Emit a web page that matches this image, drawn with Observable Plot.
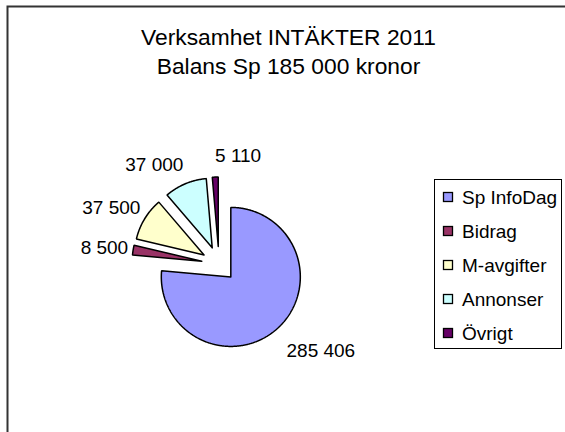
<!DOCTYPE html>
<html><head><meta charset="utf-8">
<script src="https://cdn.jsdelivr.net/npm/d3@7"></script>
<script src="https://cdn.jsdelivr.net/npm/@observablehq/plot@0.6"></script>
<style>
html,body{margin:0;padding:0;background:#fff;overflow:hidden}
#chart svg{overflow:hidden;display:block}
</style></head><body><div id="chart"></div>
<script>
// ---- data ----
const categories = ["Sp InfoDag", "Bidrag", "M-avgifter", "Annonser", "Övrigt"];
const values = [285406, 8500, 37500, 37000, 5110];
const colors = ["#9999FF", "#993366", "#FFFFCC", "#CCFFFF", "#660066"];
const titleLines = ["Verksamhet INTÄKTER 2011", "Balans Sp 185 000 kronor"];

// ---- layout ----
const W = 565, H = 432;
const cx = 218.5, cy = 263.5, r = 69.5, explode = 17.5;
const font = "'Liberation Sans', Arial, Helvetica, sans-serif";
const fmt = d3.formatLocale({decimal: ",", thousands: "\u00a0", grouping: [3], currency: ["", ""]}).format(",");

const arcs = d3.pie().sort(null).value(d => d)(values);
const slicePts = [], labels = [];
arcs.forEach((a, i) => {
  const mid = (a.startAngle + a.endAngle) / 2;
  const ux = Math.sin(mid), uy = -Math.cos(mid);
  const tx = cx + explode * ux, ty = cy + explode * uy;
  const name = categories[i];
  slicePts.push({name, x: tx, y: ty});
  const n = Math.max(2, Math.ceil((a.endAngle - a.startAngle) / (Math.PI / 360)));
  for (let k = 0; k <= n; k++) {
    const t = a.startAngle + (a.endAngle - a.startAngle) * k / n;
    slicePts.push({name, x: tx + r * Math.sin(t), y: ty - r * Math.cos(t)});
  }
  slicePts.push({name, x: tx, y: ty});
  const Rx = r + explode + (ux < 0 ? 5 : 13);
  const Ry = r + explode + 13;
  labels.push({
    text: fmt(values[i]),
    x: cx + Rx * ux,
    y: cy + Ry * uy + uy * (uy > 0 ? 16 : 9) + 1,
    side: ux < -0.1 ? "end" : "start"
  });
});

const legendX = 434.5, legendY = 179.5, legendW = 127, legendH = 169, rowH = 34, rowY0 = 197;
const legendRows = categories.map((name, i) => ({name, y: rowY0 + i * rowH}));

const chart = Plot.plot({
  width: W, height: H, margin: 0,
  x: {domain: [0, W], range: [0, W], axis: null},
  y: {domain: [0, H], range: [0, H], axis: null},
  color: {domain: categories, range: colors},
  style: {fontFamily: font, background: "white", color: "black"},
  marks: [
    Plot.frame({stroke: "#333", strokeWidth: 2, insetLeft: 7, insetTop: 6, insetRight: -10, insetBottom: -10}),
    Plot.text(titleLines, {x: 288, y: (d, i) => 37.6 + i * 28.3, text: d => d, fontSize: 22.8, textAnchor: "middle"}),
    Plot.line(slicePts, {x: "x", y: "y", z: "name", fill: "name", stroke: "black", strokeWidth: 1.5, strokeLinejoin: "miter"}),
    Plot.text(labels.filter(d => d.side === "end"), {x: "x", y: "y", text: "text", fontSize: 19, textAnchor: "end"}),
    Plot.text(labels.filter(d => d.side === "start"), {x: "x", y: "y", text: "text", fontSize: 19, textAnchor: "start"}),
    Plot.rect([0], {x1: legendX, x2: legendX + legendW, y1: legendY, y2: legendY + legendH, fill: "white", stroke: "black", strokeWidth: 1}),
    Plot.rect(legendRows, {x1: legendX + 9, x2: legendX + 18, y1: d => d.y - 4.5, y2: d => d.y + 4.5, fill: "name", stroke: "black", strokeWidth: 1.3}),
    Plot.text(legendRows, {x: legendX + 27, y: "y", text: "name", fontSize: 19, textAnchor: "start"})
  ]
});
document.getElementById("chart").append(chart);
</script></body></html>
